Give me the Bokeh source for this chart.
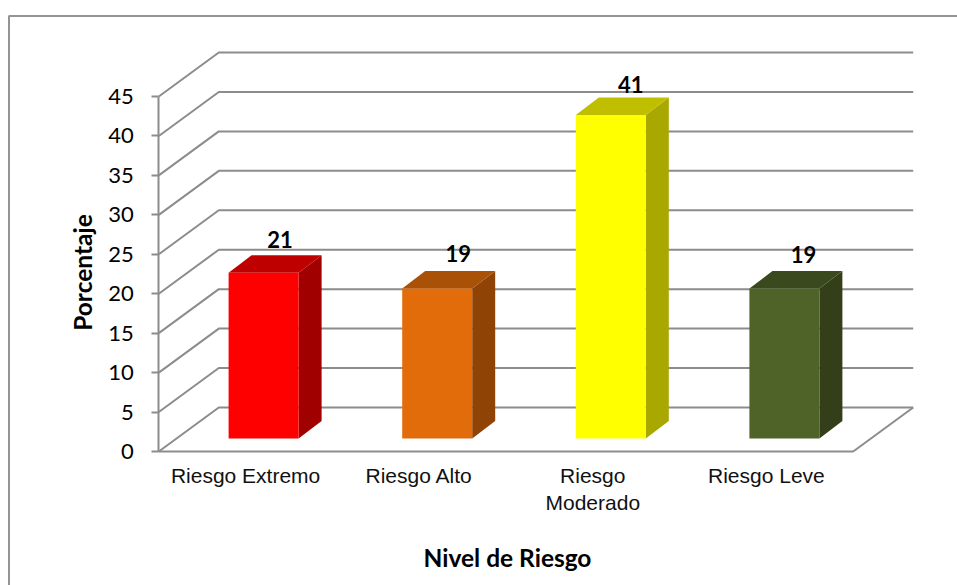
from bokeh.embed import file_html
from bokeh.resources import INLINE
from bokeh.plotting import figure
from bokeh.models import LinearAxis, FixedTicker, Range1d
from bokeh.core.properties import value

# ---- data ----
categories = ["Riesgo Extremo", "Riesgo Alto", "Riesgo\nModerado", "Riesgo Leve"]
values = [21, 19, 41, 19]
y_ticks = [0, 5, 10, 15, 20, 25, 30, 35, 40, 45]
front_colors = ["#FF0000", "#E36C0A", "#FFFF00", "#4F6228"]
top_colors = ["#BF0000", "#AA5108", "#BFBF00", "#3B4A1E"]
side_colors = ["#A00000", "#8F4406", "#A8A800", "#343F1A"]
x_title = "Nivel de Riesgo"
y_title = "Porcentaje"

# ---- layout (page pixels) ----
W, H = 957, 585
PAGE_L, PAGE_T = 0, 0
X0_PX, X_PER_CAT = 158.3, 173.6
Y0_PX, Y_PER_UNIT = 451.0, 355.0 / 45
GRID = "#8C8C8C"
TEXT = "#000000"
LABEL_DX_PX = [16.5, 21, 20, 19]
LABEL_DY_PX = [33, 35, 31, 34]

x_range = Range1d((PAGE_L - X0_PX) / X_PER_CAT, (PAGE_L + W - X0_PX) / X_PER_CAT)
y_range = Range1d((Y0_PX - (PAGE_T + H)) / Y_PER_UNIT, (Y0_PX - PAGE_T) / Y_PER_UNIT)


def px_x(px):
    return (px - X0_PX) / X_PER_CAT


def px_y(px):
    return (Y0_PX - px) / Y_PER_UNIT


DX = 60 / X_PER_CAT      # depth of the wall
DY = 44 / Y_PER_UNIT
BAR_W = 70 / X_PER_CAT
BAR_SHIFT = 18 / X_PER_CAT
BAR_DX = 23 / X_PER_CAT  # depth of a bar
BAR_DY = 17.5 / Y_PER_UNIT
BAR_BASE = 13 / Y_PER_UNIT
N = len(categories)

p = figure(width=W, height=H, x_range=x_range, y_range=y_range,
           output_backend="svg", toolbar_location=None,
           min_border=0, min_border_left=0, min_border_right=0,
           min_border_top=0, min_border_bottom=0,
           x_axis_type=None, y_axis_type=None)
p.grid.visible = False
p.outline_line_color = None
p.background_fill_color = "#FFFFFF"
p.border_fill_color = "#FFFFFF"

# chart frame: top and left edges only
p.multi_line([[px_x(8.5), px_x(8.5), px_x(957)]], [[px_y(585), px_y(15.5), px_y(15.5)]],
             line_color="#949494", line_width=2)

# walls and floor
xs, ys = [], []
for t in y_ticks:
    xs.append([0, DX, N + DX])
    ys.append([t, t + DY, t + DY])
p.multi_line(xs, ys, line_color=GRID, line_width=2)
p.multi_line([[N, N + DX]], [[0, DY]], line_color=GRID, line_width=2)

# bars
for i, v in enumerate(values):
    c = i + 0.5 + BAR_SHIFT
    l, r = c - BAR_W / 2, c + BAR_W / 2
    b, t = BAR_BASE, BAR_BASE + v
    p.patch([r, r + BAR_DX, r + BAR_DX, r], [b, b + BAR_DY, t + BAR_DY, t],
            fill_color=side_colors[i], line_color=None)
    p.patch([l, l + BAR_DX, r + BAR_DX, r], [t, t + BAR_DY, t + BAR_DY, t],
            fill_color=top_colors[i], line_color=None)
    p.quad(left=l, right=r, bottom=b, top=t, fill_color=front_colors[i], line_color=None)

# value labels
label_x = [i + 0.5 + BAR_SHIFT + LABEL_DX_PX[i] / X_PER_CAT for i in range(N)]
label_y = [BAR_BASE + v + LABEL_DY_PX[i] / Y_PER_UNIT for i, v in enumerate(values)]
p.text(label_x, label_y, text=[str(v) for v in values], text_align="center",
       text_baseline="middle", text_font=value("Lato"), text_font_style="bold",
       text_font_size="22px", text_color=TEXT)

# y axis
yaxis = LinearAxis(fixed_location=0, ticker=FixedTicker(ticks=y_ticks), bounds=(0, 45))
yaxis.axis_line_color = GRID
yaxis.axis_line_width = 2
yaxis.major_tick_line_color = GRID
yaxis.major_tick_line_width = 2
yaxis.major_tick_in = 0
yaxis.major_tick_out = 7
yaxis.minor_tick_line_color = None
yaxis.major_label_standoff = 18
yaxis.major_label_text_font = "Lato"
yaxis.major_label_text_font_size = "22px"
yaxis.major_label_text_color = TEXT
p.add_layout(yaxis, "left")

# x axis
xaxis = LinearAxis(fixed_location=0, bounds=(0, N),
                   ticker=FixedTicker(ticks=[i + 0.5 for i in range(N)]),
                   major_label_overrides={i + 0.5: c for i, c in enumerate(categories)})
xaxis.axis_line_color = GRID
xaxis.axis_line_width = 2
xaxis.major_tick_line_color = None
xaxis.minor_tick_line_color = None
xaxis.major_tick_in = 0
xaxis.major_tick_out = 0
xaxis.major_label_standoff = 12
xaxis.major_label_text_font = "Liberation Sans"
xaxis.major_label_text_font_size = "21px"
xaxis.major_label_text_color = "#111111"
p.add_layout(xaxis, "below")

# axis titles
p.text([px_x(507)], [px_y(557)], text=[x_title], text_align="center", text_baseline="middle",
       text_font=value("Lato"), text_font_style="bold", text_font_size="24.5px", text_color=TEXT)
p.text([px_x(82)], [px_y(272)], text=[y_title], text_align="center", text_baseline="middle",
       angle=90, angle_units="deg",
       text_font=value("Lato"), text_font_style="bold", text_font_size="24.5px", text_color=TEXT)

open("out.html", "w").write(file_html(p, INLINE))
